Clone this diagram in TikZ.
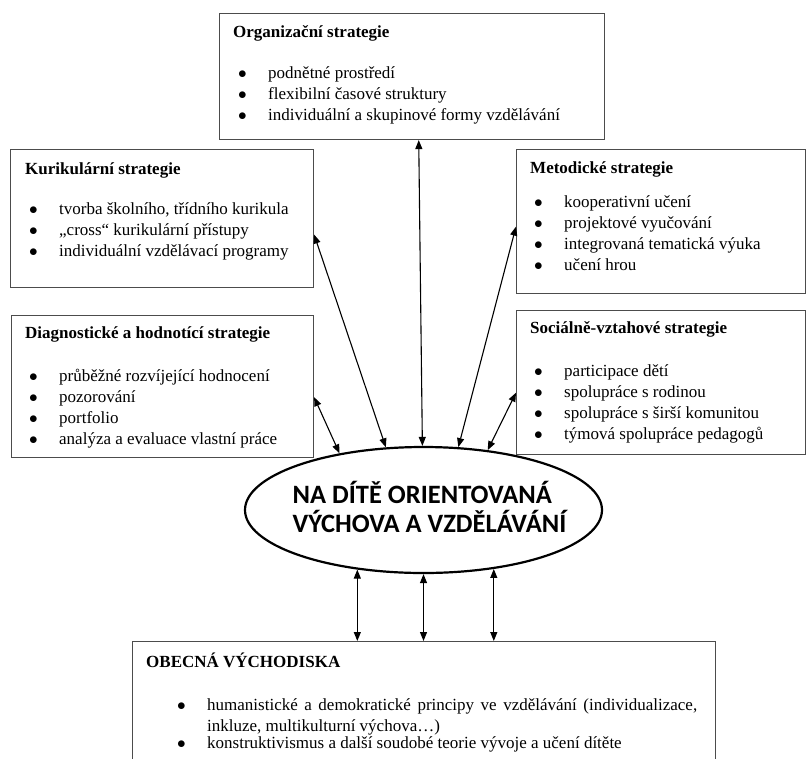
\documentclass[tikz,border=0pt]{standalone}
\usepackage{fontspec}
\setmainfont{Liberation Serif}
\newfontfamily\ovalfont{Carlito}
\usetikzlibrary{
  arrows.meta,
  positioning,
  shapes
}
\tikzset{
  stratbox/.style = {
    rectangle,
    draw=black!70,
    line width=1.1pt,
    anchor=north west,
    inner sep=0pt
  },
  strattext/.style = {
    anchor=north west,
    inner sep=0pt,
    align=left,
    font=\fontsize{17}{21}\selectfont
  },
  twoway/.style = {
    {Triangle[length=9pt,width=7pt]}-{Triangle[length=9pt,width=7pt]},
    line width=1.1pt
  }
}
\newcommand{\itm}[2][4pt]{\hspace*{#1}\makebox[30pt][l]{$\bullet$}#2}

\begin{document}
\begin{tikzpicture}[x=1pt, y=-1pt]

    \useasboundingbox (0,0) rectangle (806,758);
    \clip (0,0) rectangle (806,758);

    % Strategy boxes
    \node[stratbox, minimum width=385pt, minimum height=126pt] (org) at (219,13) {};
    \node[stratbox, minimum width=303pt, minimum height=138pt] (kur) at (10,149) {};
    \node[stratbox, minimum width=289pt, minimum height=144pt] (met) at (516,149) {};
    \node[stratbox, minimum width=302pt, minimum height=142pt] (diag) at (11,315) {};
    \node[stratbox, minimum width=289pt, minimum height=144pt] (soc) at (516,310) {};
    \node[stratbox, minimum width=583pt, minimum height=140pt] (obec) at (132,641) {};

    % Box contents
    \node[strattext, below right=12pt and 14pt of org.north west] (orgtext) {
        \textbf{Organizační strategie}\\[20pt]
        \itm[5pt]{podnětné prostředí}\\
        \itm[5pt]{flexibilní časové struktury}\\
        \itm[5pt]{individuální a skupinové formy vzdělávání}};

    \node[strattext, below right=13pt and 15pt of kur.north west] (kurtext) {
        \textbf{Kurikulární strategie}\\[19pt]
        \itm{tvorba školního, třídního kurikula}\\
        \itm{„cross“ kurikulární přístupy}\\
        \itm{individuální vzdělávací programy}};

    \node[strattext, below right=12pt and 14pt of met.north west] (mettext) {
        \textbf{Metodické strategie}\\[13pt]
        \itm{kooperativní učení}\\
        \itm{projektové vyučování}\\
        \itm{integrovaná tematická výuka}\\
        \itm{učení hrou}};

    \node[strattext, below right=11pt and 14pt of diag.north west] (diagtext) {
        \textbf{Diagnostické a hodnotící strategie}\\[22pt]
        \itm{průběžné rozvíjející hodnocení}\\
        \itm{pozorování}\\
        \itm{portfolio}\\
        \itm{analýza a evaluace vlastní práce}};

    \node[strattext, below right=11pt and 14pt of soc.north west] (soctext) {
        \textbf{Sociálně-vztahové strategie}\\[22pt]
        \itm{participace dětí}\\
        \itm{spolupráce s rodinou}\\
        \itm{spolupráce s širší komunitou}\\
        \itm{týmová spolupráce pedagogů}};

    \node[strattext, below right=12pt and 14pt of obec.north west] (obectext) {
        \textbf{OBECNÁ VÝCHODISKA}\\[22pt]
        \itm[31pt]{\parbox[t]{490pt}{humanistické a demokratické principy ve vzdělávání (individualizace,\linebreak inkluze, multikulturní výchova\dots)}}\\
        \itm[31pt]{konstruktivismus a další soudobé teorie vývoje a učení dítěte}};

    % Central ellipse
    \node[ellipse, draw, line width=2.2pt, minimum width=357pt, minimum height=126pt, inner sep=0pt] (ell) at (423.5,510) {};
    \node[align=left, inner sep=0pt, font=\ovalfont\bfseries\fontsize{26.5}{29}\selectfont] (elltext) at ([xshift=6pt,yshift=3pt]ell.center) {NA DÍTĚ ORIENTOVANÁ\\VÝCHOVA A VZDĚLÁVÁNÍ};

    % Arrows between strategies and the centre
    \foreach \src/\sa/\ea in {
        org/-84/91,
        kur/-6/121,
        diag/-4/146,
        met/182/61,
        soc/184/43
    } {
        \draw[twoway] (\src.\sa) -- (ell.\ea);
    }

    % Arrows down to the general basis
    \foreach \ea in {222, 270, 320} {
        \draw[twoway] (ell.\ea) -- (ell.\ea |- obec.north);
    }

\end{tikzpicture}
\end{document}
